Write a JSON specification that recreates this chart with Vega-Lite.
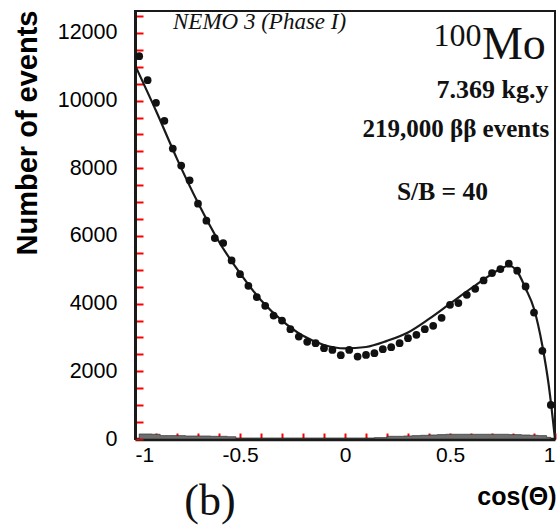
{
  "$schema": "https://vega.github.io/schema/vega-lite/v6.json",
  "width": 420,
  "height": 428,
  "autosize": {"type": "none"},
  "padding": {"left": 135, "top": 11, "right": 3, "bottom": 89},
  "background": "white",
  "config": {"view": {"stroke": "#1a1a1a", "strokeWidth": 2}, "font": "Liberation Sans"},
  "datasets": {
    "bins": [
      {"cos": -0.98, "events": 11316},
      {"cos": -0.94, "events": 10606},
      {"cos": -0.90, "events": 9937},
      {"cos": -0.86, "events": 9404},
      {"cos": -0.82, "events": 8584},
      {"cos": -0.78, "events": 8081},
      {"cos": -0.74, "events": 7646},
      {"cos": -0.70, "events": 6956},
      {"cos": -0.66, "events": 6453},
      {"cos": -0.62, "events": 5940},
      {"cos": -0.58, "events": 5793},
      {"cos": -0.54, "events": 5278},
      {"cos": -0.50, "events": 4870},
      {"cos": -0.46, "events": 4529},
      {"cos": -0.42, "events": 4194},
      {"cos": -0.38, "events": 3937},
      {"cos": -0.34, "events": 3650},
      {"cos": -0.30, "events": 3502},
      {"cos": -0.26, "events": 3247},
      {"cos": -0.22, "events": 3028},
      {"cos": -0.18, "events": 2871},
      {"cos": -0.14, "events": 2833},
      {"cos": -0.10, "events": 2685},
      {"cos": -0.06, "events": 2634},
      {"cos": -0.02, "events": 2476},
      {"cos": 0.02, "events": 2634},
      {"cos": 0.06, "events": 2436},
      {"cos": 0.10, "events": 2486},
      {"cos": 0.14, "events": 2537},
      {"cos": 0.18, "events": 2655},
      {"cos": 0.22, "events": 2714},
      {"cos": 0.26, "events": 2833},
      {"cos": 0.30, "events": 2981},
      {"cos": 0.34, "events": 3078},
      {"cos": 0.38, "events": 3247},
      {"cos": 0.42, "events": 3345},
      {"cos": 0.46, "events": 3582},
      {"cos": 0.50, "events": 3966},
      {"cos": 0.54, "events": 4017},
      {"cos": 0.58, "events": 4262},
      {"cos": 0.62, "events": 4440},
      {"cos": 0.66, "events": 4686},
      {"cos": 0.70, "events": 4905},
      {"cos": 0.74, "events": 5023},
      {"cos": 0.78, "events": 5180},
      {"cos": 0.82, "events": 4973},
      {"cos": 0.86, "events": 4508},
      {"cos": 0.90, "events": 3738},
      {"cos": 0.94, "events": 2605},
      {"cos": 0.98, "events": 1006}
    ],
    "background": [
      {"cos": -0.98, "events": 150},
      {"cos": -0.94, "events": 150},
      {"cos": -0.90, "events": 140},
      {"cos": -0.86, "events": 100},
      {"cos": -0.82, "events": 100},
      {"cos": -0.78, "events": 100},
      {"cos": -0.74, "events": 90},
      {"cos": -0.70, "events": 90},
      {"cos": -0.66, "events": 90},
      {"cos": -0.62, "events": 80},
      {"cos": -0.58, "events": 80},
      {"cos": -0.54, "events": 70},
      {"cos": -0.50, "events": 20},
      {"cos": -0.30, "events": 20},
      {"cos": -0.10, "events": 20},
      {"cos": 0.10, "events": 20},
      {"cos": 0.18, "events": 40},
      {"cos": 0.22, "events": 80},
      {"cos": 0.26, "events": 80},
      {"cos": 0.30, "events": 90},
      {"cos": 0.34, "events": 100},
      {"cos": 0.38, "events": 110},
      {"cos": 0.42, "events": 120},
      {"cos": 0.46, "events": 130},
      {"cos": 0.50, "events": 140},
      {"cos": 0.58, "events": 140},
      {"cos": 0.66, "events": 140},
      {"cos": 0.74, "events": 140},
      {"cos": 0.82, "events": 130},
      {"cos": 0.86, "events": 120},
      {"cos": 0.90, "events": 110},
      {"cos": 0.94, "events": 100},
      {"cos": 0.98, "events": 50}
    ],
    "fit": [
      {"cos": -1.0, "events": 11050},
      {"cos": -0.9, "events": 9700},
      {"cos": -0.8, "events": 8280},
      {"cos": -0.7, "events": 6980},
      {"cos": -0.6, "events": 5830},
      {"cos": -0.5, "events": 4900},
      {"cos": -0.4, "events": 4100},
      {"cos": -0.3, "events": 3500},
      {"cos": -0.2, "events": 3050},
      {"cos": -0.1, "events": 2780},
      {"cos": 0.0, "events": 2680},
      {"cos": 0.1, "events": 2720},
      {"cos": 0.2, "events": 2900},
      {"cos": 0.3, "events": 3150},
      {"cos": 0.4, "events": 3550},
      {"cos": 0.5, "events": 4000},
      {"cos": 0.6, "events": 4450},
      {"cos": 0.7, "events": 4880},
      {"cos": 0.75, "events": 5060},
      {"cos": 0.78, "events": 5120},
      {"cos": 0.82, "events": 4950},
      {"cos": 0.86, "events": 4450},
      {"cos": 0.9, "events": 3850},
      {"cos": 0.94, "events": 2750},
      {"cos": 0.97, "events": 1600},
      {"cos": 1.0, "events": 0}
    ]
  },
  "encoding": {
    "x": {
      "field": "cos", "type": "quantitative", "title": "cos(Θ)",
      "scale": {"domain": [-1, 1], "nice": false, "zero": false},
      "axis": {
        "titleFont": "Liberation Sans", "titleFontSize": 25, "titleFontWeight": "bold", "titleColor": "black",
        "titleX": 421, "titleY": 65, "titleAlign": "right", "titleBaseline": "alphabetic", "titleAnchor": "end",
        "values": [-1, -0.9, -0.8, -0.7, -0.6, -0.5, -0.4, -0.3, -0.2, -0.1, 0, 0.1, 0.2, 0.3, 0.4, 0.5, 0.6, 0.7, 0.8, 0.9, 1],
        "labelExpr": "abs(datum.value*2 - round(datum.value*2)) < 0.001 ? toString(datum.value) : ''",
        "labelFont": "Liberation Sans", "labelFontSize": 21, "labelColor": "black",
        "labelPadding": 11, "labelOverlap": false,
        "tickSize": -6,
        "tickWidth": 2, "tickColor": "red",
        "domainWidth": 3.5, "domainColor": "#1a1a1a", "grid": false
      }
    },
    "y": {
      "field": "events", "type": "quantitative", "title": "Number of events",
      "scale": {"domain": [0, 12650], "nice": false},
      "axis": {
        "titleFont": "Liberation Sans", "titleFontSize": 29, "titleFontWeight": "bold", "titleColor": "black",
        "titleX": -99, "titleY": -1, "titleAngle": 270, "titleAlign": "right", "titleBaseline": "alphabetic",
        "values": [0, 500, 1000, 1500, 2000, 2500, 3000, 3500, 4000, 4500, 5000, 5500, 6000, 6500, 7000, 7500, 8000, 8500, 9000, 9500, 10000, 10500, 11000, 11500, 12000, 12500],
        "labelExpr": "datum.value % 2000 === 0 ? toString(datum.value) : ''",
        "labelFont": "Liberation Sans", "labelFontSize": 21.5, "labelColor": "black",
        "labelPadding": 26, "labelOverlap": false,
        "tickSize": -8,
        "tickWidth": 2, "tickColor": "red",
        "domainWidth": 3, "domainColor": "#1a1a1a", "grid": false
      }
    }
  },
  "layer": [
    {
      "data": {"name": "background"},
      "mark": {"type": "area", "interpolate": "step", "color": "#6e6e6e", "stroke": "#222", "strokeWidth": 0.6}
    },
    {
      "data": {"name": "fit"},
      "mark": {"type": "line", "interpolate": "monotone", "color": "#1a1a1a", "strokeWidth": 2.2}
    },
    {
      "data": {"name": "bins"},
      "mark": {"type": "circle", "size": 60, "color": "#111", "opacity": 1}
    },
    {
      "data": {"values": [{"cos": -0.819, "events": 12106, "label": "NEMO 3 (Phase I)"}]},
      "mark": {"type": "text", "font": "Liberation Serif", "fontStyle": "italic", "fontSize": 23, "align": "left", "baseline": "alphabetic", "color": "#111"},
      "encoding": {"text": {"field": "label"}}
    },
    {
      "data": {"values": [{"cos": 0.65, "events": 11612, "label": "100"}]},
      "mark": {"type": "text", "font": "Liberation Serif", "fontSize": 32, "align": "right", "baseline": "alphabetic", "color": "#111"},
      "encoding": {"text": {"field": "label"}}
    },
    {
      "data": {"values": [{"cos": 0.652, "events": 11218, "label": "Mo"}]},
      "mark": {"type": "text", "font": "Liberation Serif", "fontSize": 46, "align": "left", "baseline": "alphabetic", "color": "#111"},
      "encoding": {"text": {"field": "label"}}
    },
    {
      "data": {"values": [{"cos": 0.702, "events": 10064, "label": "7.369 kg.y"}]},
      "mark": {"type": "text", "font": "Liberation Serif", "fontWeight": "bold", "fontSize": 26, "align": "center", "baseline": "alphabetic", "color": "#111"},
      "encoding": {"text": {"field": "label"}}
    },
    {
      "data": {"values": [{"cos": 0.528, "events": 8930, "label": "219,000 ββ events"}]},
      "mark": {"type": "text", "font": "Liberation Serif", "fontWeight": "bold", "fontSize": 25, "align": "center", "baseline": "alphabetic", "color": "#111"},
      "encoding": {"text": {"field": "label"}}
    },
    {
      "data": {"values": [{"cos": 0.464, "events": 7074, "label": "S/B = 40"}]},
      "mark": {"type": "text", "font": "Liberation Serif", "fontWeight": "bold", "fontSize": 25.5, "align": "center", "baseline": "alphabetic", "color": "#111"},
      "encoding": {"text": {"field": "label"}}
    },
    {
      "data": {"values": [{"cos": -0.643, "events": -2250, "label": "(b)"}]},
      "mark": {"type": "text", "font": "Liberation Serif", "fontSize": 44, "align": "center", "baseline": "alphabetic", "color": "#111"},
      "encoding": {"text": {"field": "label"}}
    }
  ]
}
